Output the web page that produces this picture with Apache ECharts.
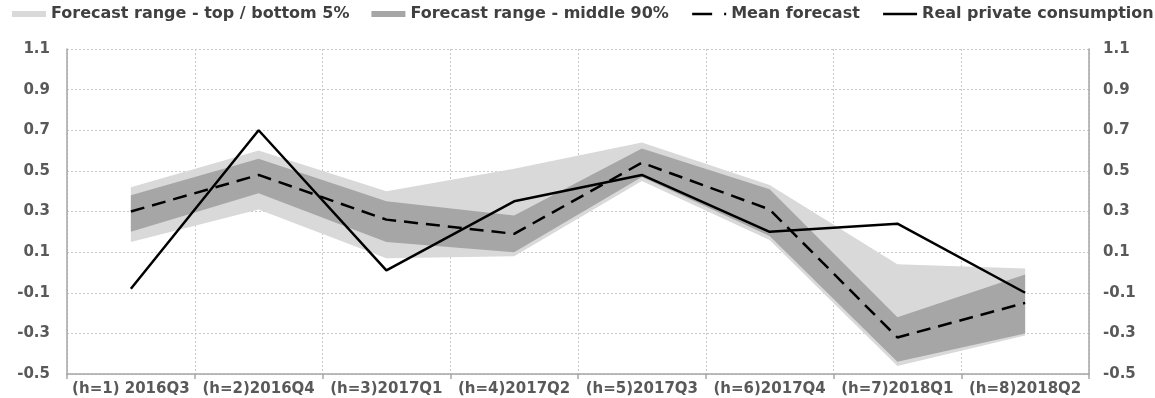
<!DOCTYPE html>
<html>
<head>
<meta charset="utf-8">
<script src="https://cdn.jsdelivr.net/npm/echarts@6/dist/echarts.min.js"></script>
<style>
  html, body { margin: 0; padding: 0; background: #ffffff; }
  #chart { width: 1155px; height: 398px; }
</style>
</head>
<body>
<div id="chart"></div>
<script>
// Forecast horizons (quarters)
const categories = ['(h=1) 2016Q3', '(h=2)2016Q4', '(h=3)2017Q1', '(h=4)2017Q2',
                    '(h=5)2017Q3', '(h=6)2017Q4', '(h=7)2018Q1', '(h=8)2018Q2'];

// Outer forecast range (top / bottom 5%)
const outerLow  = [0.15, 0.31, 0.07, 0.08, 0.45, 0.16, -0.46, -0.31];
const outerHigh = [0.42, 0.60, 0.40, 0.51, 0.64, 0.43,  0.04,  0.02];

// Inner forecast range (middle 90%)
const innerLow  = [0.20, 0.39, 0.15, 0.10, 0.47, 0.18, -0.44, -0.30];
const innerHigh = [0.38, 0.56, 0.35, 0.28, 0.61, 0.41, -0.22, -0.01];

// Mean forecast and outturn
const meanForecast = [0.30, 0.48, 0.26, 0.19, 0.54, 0.31, -0.32, -0.15];
const realConsumption = [-0.08, 0.70, 0.01, 0.35, 0.48, 0.20, 0.24, -0.10];

// Value axis ticks
const yMin = -0.5, yMax = 1.1, yStep = 0.2;

const names = {
  outer: 'Forecast range - top / bottom 5%',
  inner: 'Forecast range - middle 90%',
  mean: 'Mean forecast',
  real: 'Real private consumption'
};

const FONT = 'DejaVu Sans';
const LIGHT = '#d9d9d9';
const DARK = '#a6a6a6';
const AXIS = '#a6a6a6';
const GRIDLINE = '#c8c8c8';

// band thickness stacked on top of its lower edge
const spread = (hi, lo) => hi.map((v, i) => +(v - lo[i]).toFixed(4));

function bandBase(stack, lo) {
  return {
    type: 'line', stack: stack, stackStrategy: 'all', data: lo, symbol: 'none', silent: true,
    lineStyle: { width: 0, opacity: 0 }, itemStyle: { opacity: 0 }
  };
}
function bandTop(name, stack, hi, lo, color) {
  return {
    name: name, type: 'line', stack: stack, stackStrategy: 'all', data: spread(hi, lo),
    symbol: 'none', color: color, silent: true,
    lineStyle: { width: 0, opacity: 0 },
    areaStyle: { color: color, opacity: 1 }
  };
}

const yAxisCommon = {
  type: 'value', min: yMin, max: yMax, interval: yStep,
  axisLine: { show: true, lineStyle: { color: AXIS, width: 1.5 } },
  axisTick: { show: false },
  axisLabel: {
    fontFamily: FONT, fontWeight: 'bold', fontSize: 15, color: '#595959',
    formatter: v => v.toFixed(1)
  }
};

const hiddenDot = { color: 'rgba(0,0,0,0)', borderWidth: 0, opacity: 0 };

const option = {
  animation: false,
  backgroundColor: '#ffffff',
  textStyle: { fontFamily: FONT },
  legend: {
    top: 6, left: 12, padding: 0, itemGap: 22,
    itemWidth: 34, itemHeight: 6,
    textStyle: { fontFamily: FONT, fontWeight: 'bold', fontSize: 16, color: '#404040' },
    data: [
      { name: names.outer, icon: 'rect', itemStyle: { color: LIGHT } },
      { name: names.inner, icon: 'rect', itemStyle: { color: DARK } },
      { name: names.mean, itemStyle: hiddenDot, lineStyle: { type: [20, 12, 2, 20], width: 2.5, color: '#000' } },
      { name: names.real, itemStyle: hiddenDot, lineStyle: { width: 2.5, color: '#000' } }
    ]
  },
  grid: { left: 67, right: 66, top: 49, bottom: 24 },
  xAxis: {
    type: 'category', data: categories, boundaryGap: true,
    axisLine: { show: true, onZero: false, lineStyle: { color: AXIS, width: 1.5 } },
    axisTick: { show: true, length: 5, lineStyle: { color: AXIS, width: 1.5 } },
    axisLabel: {
      interval: 0, margin: 8,
      fontFamily: FONT, fontWeight: 'bold', fontSize: 15, color: '#595959'
    },
    splitLine: { show: true, interval: 0, lineStyle: { color: GRIDLINE, type: [2, 2], width: 1 } }
  },
  yAxis: [
    Object.assign({}, yAxisCommon, {
      position: 'left',
      axisLabel: Object.assign({}, yAxisCommon.axisLabel, { margin: 17 }),
      splitLine: { show: true, lineStyle: { color: GRIDLINE, type: [2, 2], width: 1 } }
    }),
    Object.assign({}, yAxisCommon, {
      position: 'right',
      axisLabel: Object.assign({}, yAxisCommon.axisLabel, { margin: 14 }),
      splitLine: { show: false }
    })
  ],
  series: [
    bandBase('outer', outerLow),
    bandTop(names.outer, 'outer', outerHigh, outerLow, LIGHT),
    bandBase('inner', innerLow),
    bandTop(names.inner, 'inner', innerHigh, innerLow, DARK),
    {
      name: names.mean, type: 'line', data: meanForecast, symbol: 'none', color: '#000',
      lineStyle: { color: '#000', width: 2.5, type: [14, 8] }, z: 5
    },
    {
      name: names.real, type: 'line', data: realConsumption, symbol: 'none', color: '#000',
      lineStyle: { color: '#000', width: 2.5 }, z: 6
    }
  ]
};

const chart = echarts.init(document.getElementById('chart'), null, { renderer: 'canvas' });
chart.setOption(option);
</script>
</body>
</html>
